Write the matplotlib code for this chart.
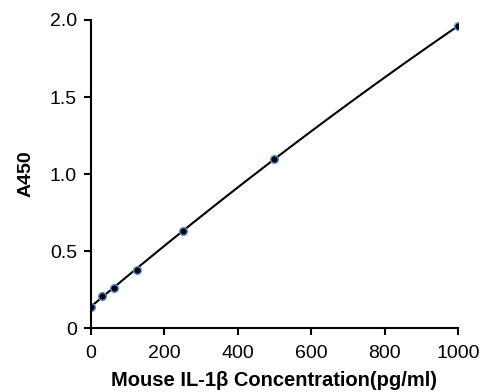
import numpy as np
import matplotlib.pyplot as plt

plt.rcParams['font.family'] = ['Liberation Sans', 'DejaVu Sans']

# standard curve data
conc = [0, 31.25, 62.5, 125, 250, 500, 1000]
a450 = [0.14, 0.21, 0.26, 0.38, 0.63, 1.10, 1.96]

x_ticks = [0, 200, 400, 600, 800, 1000]
y_ticks = [0, 0.5, 1.0, 1.5, 2.0]
y_tick_labels = ["0", "0.5", "1.0", "1.5", "2.0"]

fig = plt.figure(figsize=(4.81, 3.92), dpi=100)
ax = fig.add_axes([0.189, 0.163, 0.763, 0.786])

# smooth fitted curve through the standards
coef = np.polyfit(conc, a450, 2)
xs = np.linspace(0, 1000, 200)
ax.plot(xs, np.polyval(coef, xs), color="black", linewidth=1.5)
ax.plot(conc, a450, "o", color="black", markersize=5.5,
        markeredgecolor="#5b8fd0", markeredgewidth=1)

ax.set_xlim(0, 1000)
ax.set_ylim(0, 2.0)
ax.set_xticks(x_ticks)
ax.set_yticks(y_ticks)
ax.set_yticklabels(y_tick_labels)
ax.tick_params(direction="out", length=5, width=1.5, labelsize=14)
ax.tick_params(axis="x", pad=7)
ax.tick_params(axis="y", pad=5)

for s in ["top", "right"]:
    ax.spines[s].set_visible(False)
for s in ["left", "bottom"]:
    ax.spines[s].set_linewidth(1.5)

ax.set_xlabel("Mouse IL-1β Concentration(pg/ml)", fontsize=14.5, fontweight="bold", labelpad=7)
ax.set_ylabel("A450", fontsize=14, fontweight="bold", labelpad=11)

plt.savefig("out.png", dpi=100)
